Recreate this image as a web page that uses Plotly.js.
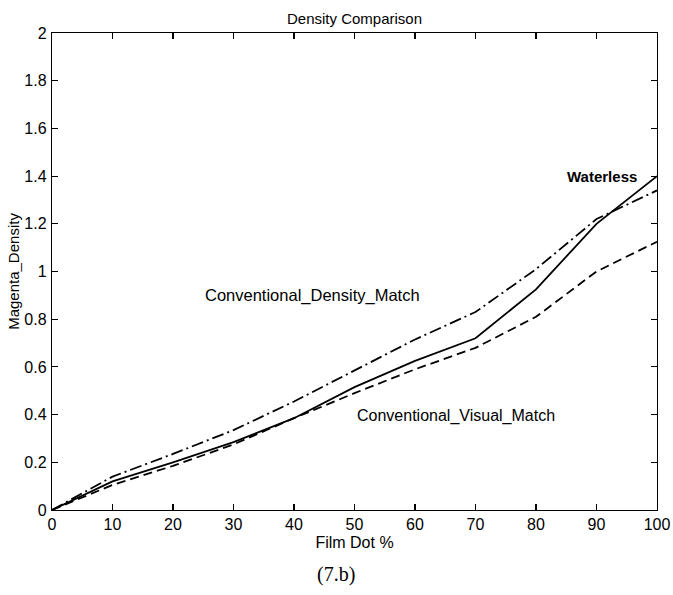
<!DOCTYPE html>
<html>
<head>
<meta charset="utf-8">
<script src="https://cdn.plot.ly/plotly-3.0.1.min.js"></script>
<style>html,body{margin:0;padding:0;background:#fff;}#chart{width:673px;height:595px;}</style>
</head>
<body>
<div id="chart"></div>
<script>
// Data
const filmDot = [0, 10, 20, 30, 40, 50, 60, 70, 80, 90, 100];
const waterless = [0, 0.12, 0.20, 0.285, 0.385, 0.515, 0.625, 0.72, 0.925, 1.20, 1.40];
const conventionalDensityMatch = [0, 0.14, 0.235, 0.335, 0.455, 0.585, 0.715, 0.83, 1.01, 1.22, 1.34];
const conventionalVisualMatch = [0, 0.105, 0.185, 0.275, 0.385, 0.49, 0.59, 0.68, 0.81, 1.0, 1.125];
const seriesLabels = ["Waterless", "Conventional_Density_Match", "Conventional_Visual_Match"];
const xTicks = [0, 10, 20, 30, 40, 50, 60, 70, 80, 90, 100];
const yTicks = [0, 0.2, 0.4, 0.6, 0.8, 1, 1.2, 1.4, 1.6, 1.8, 2];

const font = "Liberation Sans, Arial, Helvetica, sans-serif";

const traces = [
  {x: filmDot, y: waterless, name: seriesLabels[0], mode: "lines",
   line: {color: "#000", width: 1.8, dash: "solid"}},
  {x: filmDot, y: conventionalDensityMatch, name: seriesLabels[1], mode: "lines",
   line: {color: "#000", width: 1.8, dash: "12px,4px,2px,4px"}},
  {x: filmDot, y: conventionalVisualMatch, name: seriesLabels[2], mode: "lines",
   line: {color: "#000", width: 1.8, dash: "9px,5px"}}
];

const axisCommon = {
  showgrid: false, zeroline: false, showline: true, linecolor: "#000", linewidth: 1.2,
  mirror: "ticks", ticks: "inside", ticklen: 6, tickwidth: 1.2, tickcolor: "#000",
  tickfont: {family: font, size: 16, color: "#000"}
};

const layout = {
  width: 673, height: 595,
  margin: {l: 52, r: 16, t: 33, b: 85},
  paper_bgcolor: "#fff", plot_bgcolor: "#fff",
  showlegend: false,
  title: {text: "Density Comparison", font: {family: font, size: 15, color: "#000"},
          x: 0.5, xref: "paper", y: 1 - 19/595, yanchor: "middle"},
  xaxis: Object.assign({}, axisCommon, {
    range: [0, 100], tickvals: xTicks,
    title: {text: "Film Dot %", font: {family: font, size: 16, color: "#000"}, standoff: 4}
  }),
  yaxis: Object.assign({}, axisCommon, {
    range: [0, 2], tickvals: yTicks, ticklabelstandoff: 1,
    title: {text: "Magenta_Density", font: {family: font, size: 15, color: "#000"}, standoff: 1}
  }),
  annotations: [
    {x: 97, y: 1.4, xref: "x", yref: "y", text: "<b>" + seriesLabels[0] + "</b>", showarrow: false,
     xanchor: "right", yanchor: "middle", font: {family: font, size: 15, color: "#000"}},
    {x: 25, y: 0.9, xref: "x", yref: "y", text: seriesLabels[1], showarrow: false,
     xanchor: "left", yanchor: "middle", font: {family: font, size: 16.5, color: "#000"}},
    {x: 50, y: 0.395, xref: "x", yref: "y", text: seriesLabels[2], showarrow: false,
     xanchor: "left", yanchor: "middle", font: {family: font, size: 16, color: "#000"}},
    {x: 0.47, y: -0.136, xref: "paper", yref: "paper", text: "(7.b)", showarrow: false,
     xanchor: "center", yanchor: "middle",
     font: {family: "Liberation Serif, Times New Roman, serif", size: 20, color: "#000"}}
  ]
};

Plotly.newPlot("chart", traces, layout, {displayModeBar: false, staticPlot: true});
</script>
</body>
</html>
